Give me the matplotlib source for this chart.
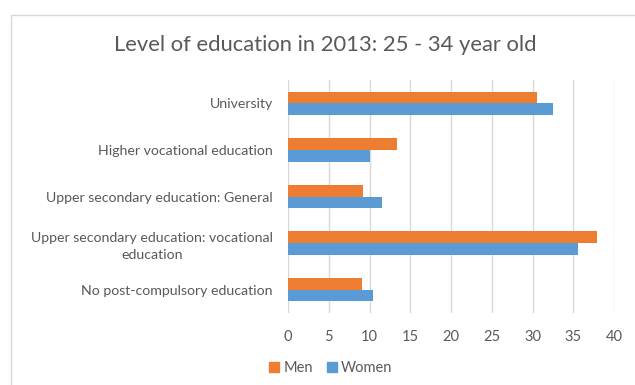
import matplotlib
matplotlib.use("Agg")
import matplotlib.pyplot as plt
from matplotlib.patches import Rectangle, Patch

categories = [
    "University",
    "Higher vocational education",
    "Upper secondary education: General",
    "Upper secondary education: vocational\neducation",
    "No post-compulsory education",
]
men = [30.5, 13.4, 9.2, 37.9, 9.1]
women = [32.5, 10.1, 11.5, 35.6, 10.4]
x_ticks = [0, 5, 10, 15, 20, 25, 30, 35, 40]
title = "Level of education in 2013: 25 - 34 year old"

ORANGE = "#ED7D31"
BLUE = "#5B9BD5"
TEXT = "#595959"
GRID = "#D9D9D9"

plt.rcParams["font.family"] = ["Lato", "DejaVu Sans"]

W, H = 635, 385
fig = plt.figure(figsize=(W / 100, H / 100), dpi=100)
fig.patch.set_facecolor("white")

# chart frame
fig.patches.append(Rectangle((11 / W, -0.1), 1.2, 1 - 15 / H + 0.1,
                             transform=fig.transFigure, fill=False,
                             edgecolor=GRID, linewidth=1.0))

ax = fig.add_axes([288 / W, 1 - 313 / H, (614 - 288) / W, (313 - 80) / H])
ypos = list(range(len(categories)))
bh = 0.25
ax.barh([y - bh / 2 for y in ypos], men, height=bh, color=ORANGE, label="Men", zorder=3)
ax.barh([y + bh / 2 for y in ypos], women, height=bh, color=BLUE, label="Women", zorder=3)

ax.set_ylim(len(categories) - 0.5, -0.5)
ax.set_xlim(0, 40)
ax.set_xticks(x_ticks)
ax.set_xticklabels([str(t) for t in x_ticks], color=TEXT, fontsize=10.5)
ax.set_yticks(ypos)
ax.set_yticklabels(categories, color=TEXT, fontsize=10.2, multialignment="center",
                   linespacing=1.5)
ax.tick_params(axis="both", length=0)
ax.tick_params(axis="x", pad=12)
ax.tick_params(axis="y", pad=11)
ax.grid(axis="x", color=GRID, linewidth=1.0, zorder=0)
for s in ax.spines.values():
    s.set_visible(False)

fig.text(325 / W, 1 - 45 / H, title, ha="center", va="center", fontsize=15.8, color=TEXT)

handles = [Patch(color=ORANGE, label="Men"), Patch(color=BLUE, label="Women")]
fig.legend(handles=handles, loc="center", bbox_to_anchor=(331 / W, 1 - 368 / H),
           ncol=2, frameon=False, fontsize=10.5, labelcolor=TEXT,
           handlelength=0.65, handleheight=0.65, handletextpad=0.3, columnspacing=1.0)

fig.savefig("out.png", dpi=100)
